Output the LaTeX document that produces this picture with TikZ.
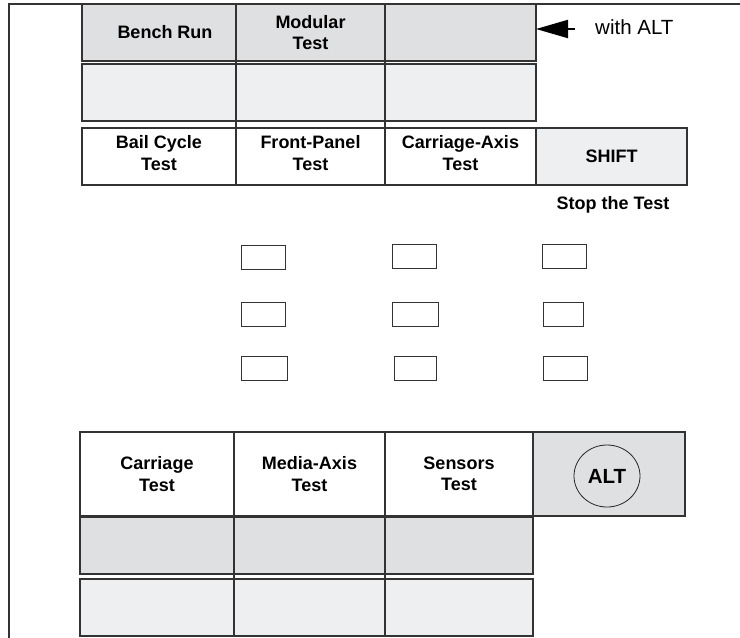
\documentclass[tikz,border=0pt]{standalone}
\usepackage{fontspec}
\setmainfont{Liberation Sans}
\usetikzlibrary{arrows.meta,shapes.geometric}

\definecolor{keydark}{HTML}{DFE0E2}
\definecolor{keylight}{HTML}{EEEFF1}

\begin{document}
\begin{tikzpicture}[x=1pt, y=-1pt,
			cell/.style={draw=black!80, line width=1.1pt, minimum width=#1, inner sep=0pt, outer sep=0pt, anchor=north west, align=center, font=\bfseries\fontsize{18}{21.5}\selectfont},
			tall/.style={minimum height=57pt},
			taller/.style={minimum height=84pt},
			celltext/.style={align=center, inner sep=0pt, font=\bfseries\fontsize{18}{21.5}\selectfont},
			smallkey/.style={draw=black!80, line width=1.1pt, minimum width=44pt, minimum height=24pt, inner sep=0pt, anchor=north west},
			colline/.style={black!80, line width=1.4pt}]
			\useasboundingbox (0,0) rectangle (740,638);
			% frame
			\draw[black!80, line width=1.1pt] (9,638) -- (9,4) -- (740,4);
			% upper key rows
			\node[cell=154pt, tall, fill=keydark] (bench) at (82,4) {};
			\node[cell=149pt, tall, fill=keydark] (modular) at (236,4) {Modular\\Test};
			\node[cell=151pt, tall, fill=keydark] (altblank) at (385,4) {};
			\node[cell=154pt, tall, fill=keylight] (blanka) at (82,64) {};
			\node[cell=149pt, tall, fill=keylight] (blankb) at (236,64) {};
			\node[cell=151pt, tall, fill=keylight] (blankc) at (385,64) {};
			\node[cell=154pt, tall, fill=white] (bail) at (82,128) {};
			\node[cell=149pt, tall, fill=white] (front) at (236,128) {};
			\node[cell=151pt, tall, fill=white] (caxis) at (385,128) {};
			\node[cell=151pt, tall, fill=keylight] (shift) at (536,128) {SHIFT};
			\node[celltext] (benchtext) at ([xshift=6pt]bench.center) {Bench Run};
			\node[celltext] (bailtext) at ([yshift=3.5pt]bail.center) {Bail Cycle\\Test};
			\node[celltext] (fronttext) at ([yshift=3.5pt]front.center) {Front-Panel\\Test};
			\node[celltext] (caxistext) at ([yshift=3.5pt]caxis.center) {Carriage-Axis\\Test};
			\draw[colline] (bench.north east) -- (front.south west);
			\draw[colline] (modular.north east) -- (caxis.south west);
			% note with arrow
			\node[anchor=west, inner sep=0pt, font=\fontsize{20.5}{24}\selectfont] (withalt) at (595,27) {with ALT};
			\coordinate (altarrow) at (575,29);
			\draw[-{Triangle[length=32pt, width=18pt]}, line width=2pt] (altarrow) -- (altblank.east |- altarrow);
			\node[celltext] (stop) at (613,205) {Stop the Test};
			% small keys
			\node[smallkey] (ka) at (241,245) {};
			\node[smallkey] (kb) at (392,244) {};
			\node[smallkey] (kc) at (542,244) {};
			\node[smallkey] (kd) at (241,302) {};
			\node[smallkey, minimum width=46pt] (ke) at (392,302) {};
			\node[smallkey, minimum width=40pt] (kf) at (543,302) {};
			\node[smallkey, minimum width=46pt] (kg) at (241,356) {};
			\node[smallkey, minimum width=42pt] (kh) at (394,356) {};
			\node[smallkey] (ki) at (543,356) {};
			% lower key rows
			\node[cell=154pt, taller, fill=white] (carriage) at (80,432) {Carriage\\Test};
			\node[cell=151pt, taller, fill=white] (media) at (234,432) {Media-Axis\\Test};
			\node[cell=148pt, taller, fill=white] (sensors) at (385,432) {Sensors\\Test};
			\node[cell=152pt, taller, fill=keydark] (altkey) at (533,432) {};
			\node[draw=black!85, line width=0.8pt, ellipse, minimum width=66pt, minimum height=62pt, inner sep=0pt, font=\bfseries\fontsize{20.5}{24}\selectfont] (alt) at (607,476) {ALT};
			\draw[colline] (carriage.north east) -- (carriage.south east);
			\draw[colline] (media.north east) -- (media.south east);
			\draw[colline] (sensors.north east) -- (sensors.south east);
			\node[cell=154pt, tall, fill=keydark] (lowa) at (80,517) {};
			\node[cell=151pt, tall, fill=keydark] (lowb) at (234,517) {};
			\node[cell=148pt, tall, fill=keydark] (lowc) at (385,517) {};
			\node[cell=154pt, tall, fill=keylight] (lowd) at (80,579) {};
			\node[cell=151pt, tall, fill=keylight] (lowe) at (234,579) {};
			\node[cell=148pt, tall, fill=keylight] (lowf) at (385,579) {};
			\draw[black!80, line width=1.1pt] (lowa.north east) -- (lowd.south east);
			\draw[black!80, line width=1.1pt] (lowb.north east) -- (lowe.south east);
		\end{tikzpicture}
\end{document}
